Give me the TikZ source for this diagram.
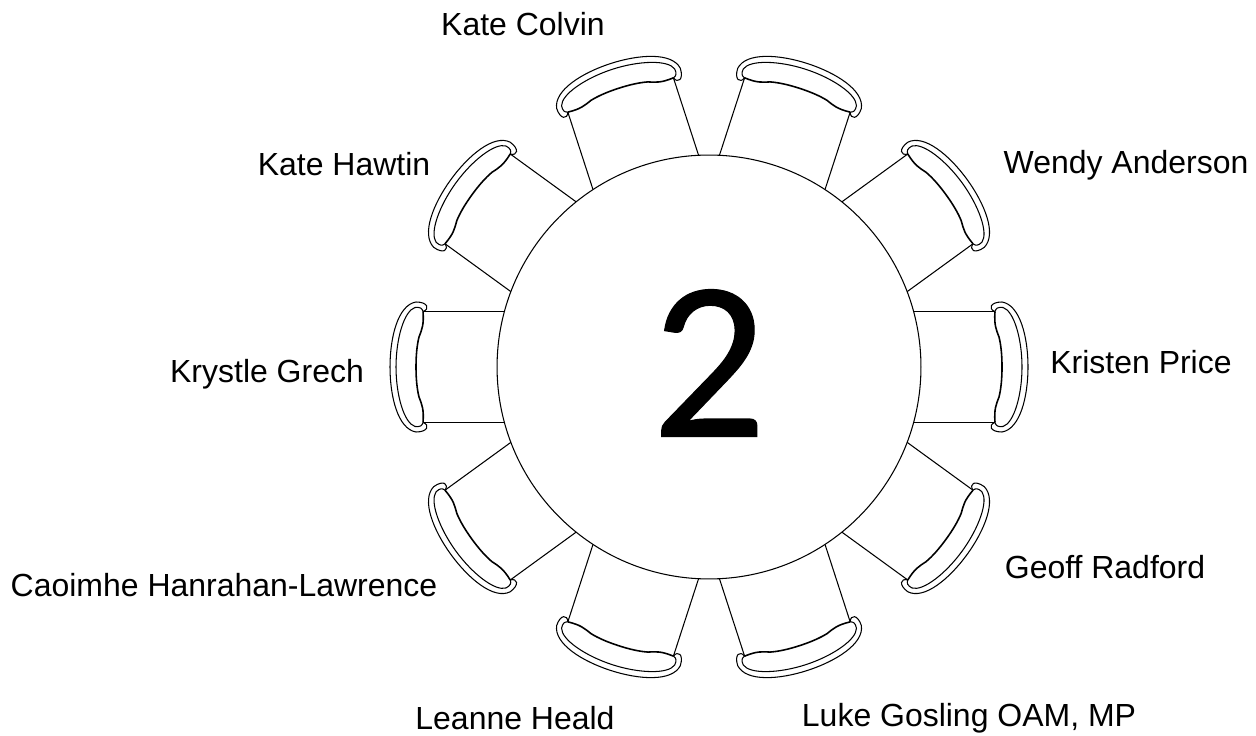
\documentclass[tikz,border=0pt]{standalone}
\usepackage{fontspec}
\setmainfont{Liberation Sans}
\newfontfamily\tablefont[FakeBold=0.5]{Carlito}
\begin{document}
\begin{tikzpicture}[
        x=0.02cm,y=0.02cm,
        tableline/.style={draw=black,line width=0.6pt},
        backline/.style={draw=black,line width=0.9pt},
        guest/.style={font=\fontsize{18.2}{22}\selectfont,text=black,inner sep=0pt},
        tablecircle/.style={circle,tableline,minimum size=8.48cm,inner sep=0pt},
        tablenumber/.style={font=\fontsize{129}{140}\tablefont,text=black,inner sep=0pt}
    ]
        \useasboundingbox (0,0) rectangle (1256,736);

        % Chairs
        \foreach \a in {0,36,...,324} {
            \begin{scope}[shift={(709,369)},rotate=\a]
                \draw[tableline] (204.6,55.5) -- (286,55.5);
                \draw[tableline] (204.6,-55.5) -- (286,-55.5);
                \draw[backline] (286,55.5) .. controls (285,42) and (287,38) .. (290,30)
                    .. controls (292,22) and (293,12) .. (293,0)
                    .. controls (293,-12) and (292,-22) .. (290,-30)
                    .. controls (287,-38) and (285,-42) .. (286,-55.5);
                \draw[tableline] (286,55.5) .. controls (287,59) and (289,60) .. (294,59.5)
                    .. controls (305,56) and (313,28) .. (313,0)
                    .. controls (313,-28) and (305,-56) .. (294,-59.5)
                    .. controls (289,-60) and (287,-59) .. (286,-55.5);
                \draw[tableline] (286,55.5) .. controls (279,58) and (281,65) .. (293,65)
                    .. controls (311,62) and (319,30) .. (319,0)
                    .. controls (319,-30) and (311,-62) .. (293,-65)
                    .. controls (281,-65) and (279,-58) .. (286,-55.5);
            \end{scope}
        }

        % Table
        \node[tablecircle] (table2) at (709,369) {};
        \node[tablenumber] (tablenum) at (709,373) {2};

        % Guests
        \node[guest] (kcolvin) at (523,712) {Kate Colvin};
        \node[guest] (wanderson) at (1126,571) {Wendy Anderson};
        \node[guest] (khawtin) at (344,572) {Kate Hawtin};
        \node[guest] (kprice) at (1141,374) {Kristen Price};
        \node[guest] (kgrech) at (267,362) {Krystle Grech};
        \node[guest] (gradford) at (1105,169) {Geoff Radford};
        \node[guest] (chanrahan) at (224,151) {Caoimhe Hanrahan-Lawrence};
        \node[guest] (lheald) at (515,18) {Leanne Heald};
        \node[guest] (lgosling) at (969,18) {Luke Gosling OAM, MP};
    \end{tikzpicture}
\end{document}
